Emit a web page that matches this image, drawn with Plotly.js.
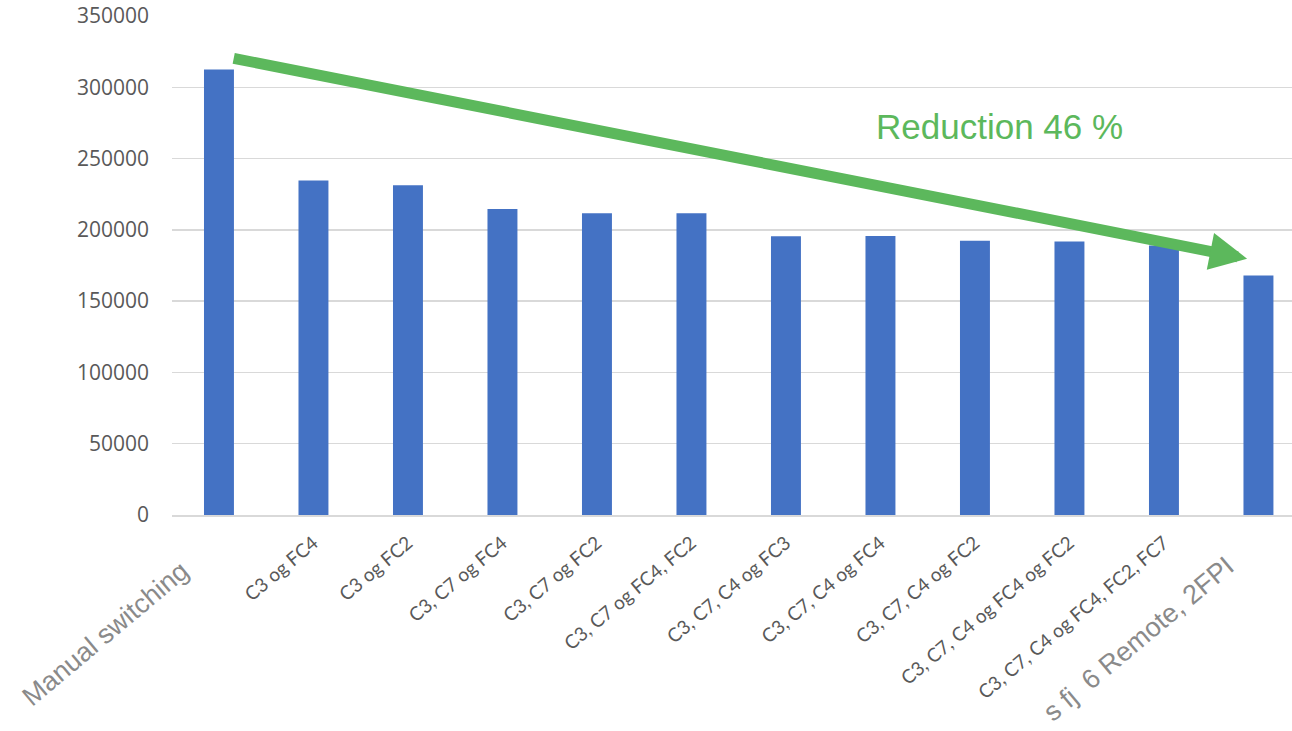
<!DOCTYPE html>
<html>
<head>
<meta charset="utf-8">
<script src="https://cdn.plot.ly/plotly-3.0.1.min.js"></script>
<style>html,body{margin:0;padding:0;background:#fff;}#chart{width:1292px;height:731px;}</style>
</head>
<body>
<div id="chart"></div>
<script>
const categories = [
  "Manual switching",
  "C3 og FC4",
  "C3 og FC2",
  "C3, C7 og FC4",
  "C3, C7 og FC2",
  "C3, C7 og FC4, FC2",
  "C3, C7, C4 og FC3",
  "C3, C7, C4 og FC4",
  "C3, C7, C4 og FC2",
  "C3, C7, C4 og FC4 og FC2",
  "C3, C7, C4 og FC4, FC2, FC7",
  "s fj  6 Remote, 2FPI"
];
const values = [312400, 234600, 231300, 214700, 211700, 211600, 195600, 195700, 192300, 191900, 189000, 168000];
const yTicks = [0, 50000, 100000, 150000, 200000, 250000, 300000, 350000];
const arrowStart = [0.14, 320500];
const arrowEnd = [10.88, 179800];
const reductionLabel = "Reduction 46 %";
const reductionPos = [8.26, 272500];

const NB = '\u00A0';
const bigPad = {0: 6, 11: 5};
const tickText = categories.map((c, i) => (i in bigPad)
  ? '<span style="font-family:\'Liberation Sans\', Arial, sans-serif;font-size:27px;color:#8a8a8a">' + c + NB.repeat(bigPad[i]) + '</span>'
  : c);

const data = [{
  type: 'bar',
  x: categories,
  y: values,
  marker: {color: '#4472c4'},
  hoverinfo: 'none'
}];

const layout = {
  width: 1292,
  height: 731,
  margin: {l: 172, r: 0, t: 16, b: 216},
  paper_bgcolor: '#ffffff',
  plot_bgcolor: '#ffffff',
  bargap: 0.683,
  showlegend: false,
  xaxis: {
    type: 'category',
    range: [-0.497, 11.355],
    tickvals: categories,
    ticktext: tickText,
    tickangle: -40,
    tickfont: {family: 'Lato, "Open Sans", sans-serif', size: 19, color: '#595959'},
    ticklabelstandoff: 8,
    showgrid: false,
    showline: true,
    linecolor: '#d9d9d9',
    linewidth: 1.5,
    ticks: '',
    automargin: false,
    fixedrange: true
  },
  yaxis: {
    range: [0, 350000],
    tickvals: yTicks,
    tickformat: 'd',
    tickfont: {family: '"Open Sans", sans-serif', size: 21, color: '#595959'},
    showgrid: true,
    gridcolor: '#d9d9d9',
    gridwidth: 1.5,
    zeroline: false,
    showline: false,
    ticks: '',
    ticklabelstandoff: 22,
    automargin: false,
    fixedrange: true
  },
  annotations: [
    {
      x: arrowEnd[0], y: arrowEnd[1], xref: 'x', yref: 'y',
      ax: arrowStart[0], ay: arrowStart[1], axref: 'x', ayref: 'y',
      text: '', showarrow: true,
      arrowhead: 2, arrowsize: 0.68, arrowwidth: 11, arrowcolor: '#5cb85c',
      standoff: 0, startstandoff: 0
    },
    {
      x: reductionPos[0], y: reductionPos[1], xref: 'x', yref: 'y',
      text: reductionLabel, showarrow: false,
      font: {family: '"Liberation Sans", Arial, sans-serif', size: 35, color: '#5cb85c'},
      xanchor: 'center', yanchor: 'middle'
    }
  ]
};

Plotly.newPlot('chart', data, layout, {displayModeBar: false, staticPlot: true});
</script>
</body>
</html>
